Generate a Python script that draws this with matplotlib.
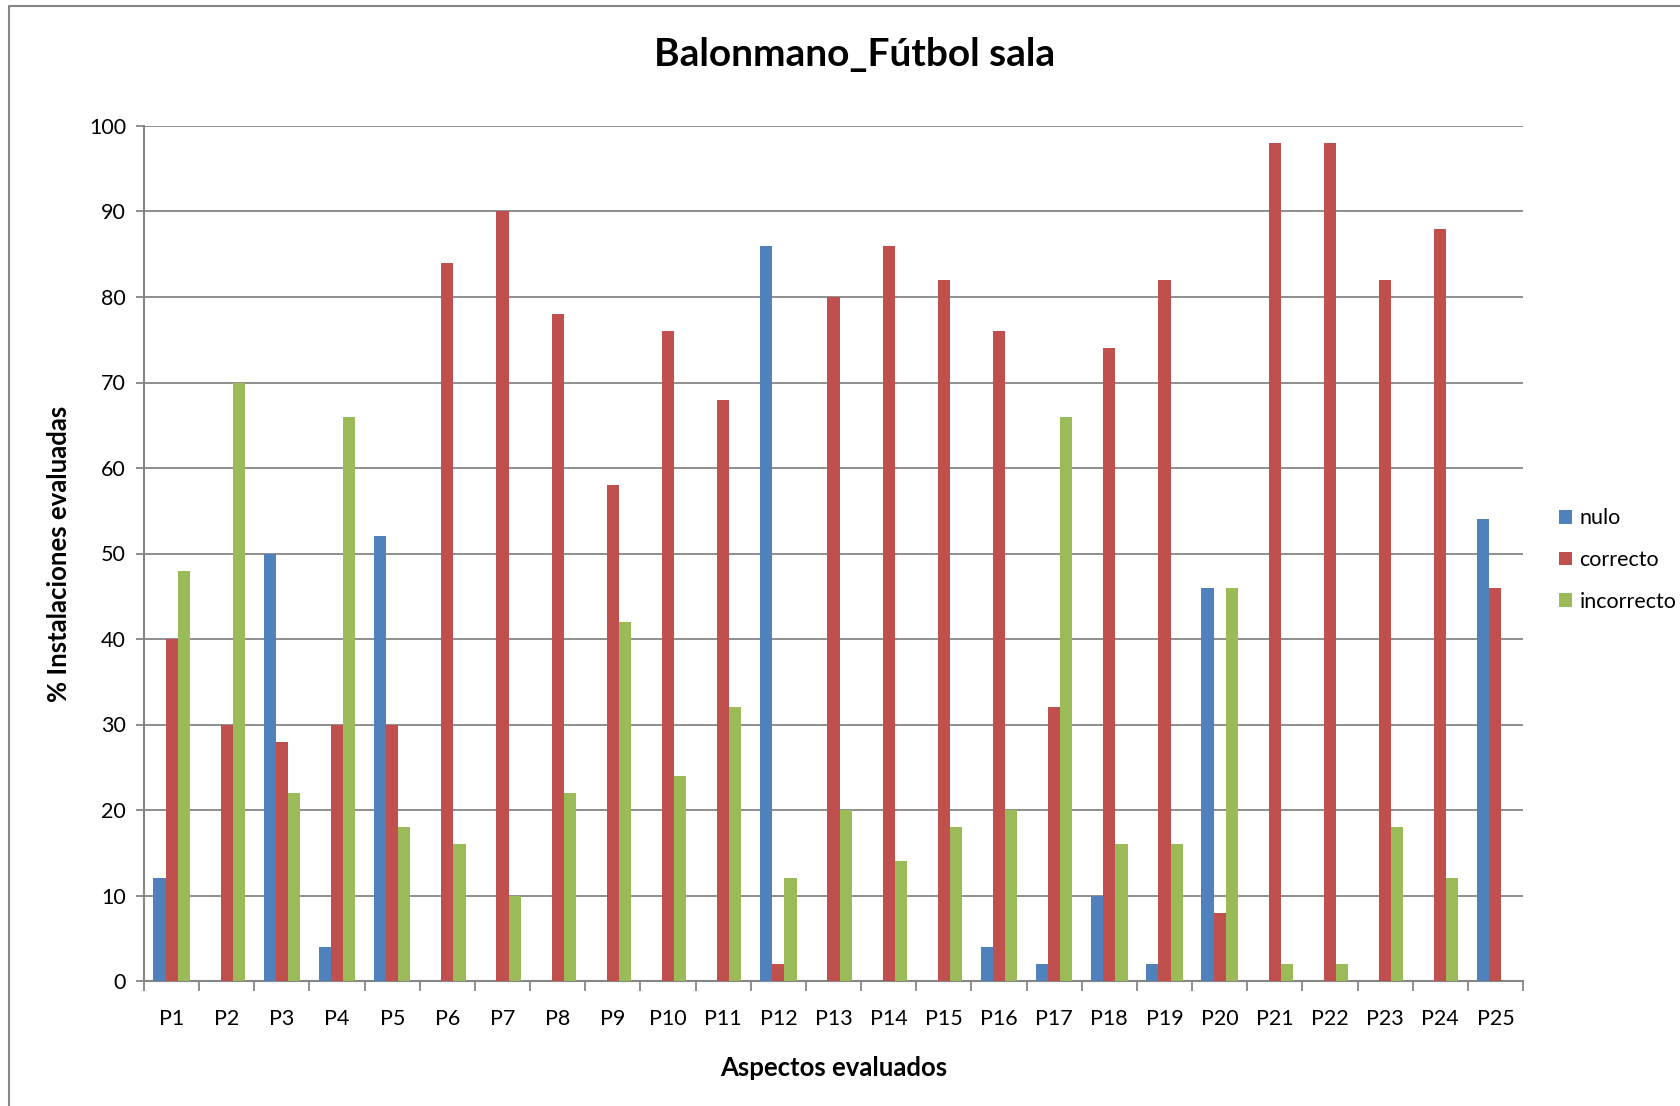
import numpy as np
import matplotlib
matplotlib.use("Agg")
import matplotlib.pyplot as plt
from matplotlib.lines import Line2D
from matplotlib.patches import Patch

# Data
categories = [f"P{i}" for i in range(1, 26)]
nulo = [12, 0, 50, 4, 52, 0, 0, 0, 0, 0, 0, 86, 0, 0, 0, 4, 2, 10, 2, 46, 0, 0, 0, 0, 54]
correcto = [40, 30, 28, 30, 30, 84, 90, 78, 58, 76, 68, 2, 80, 86, 82, 76, 32, 74, 82, 8, 98, 98, 82, 88, 46]
incorrecto = [48, 70, 22, 66, 18, 16, 10, 22, 42, 24, 32, 12, 20, 14, 18, 20, 66, 16, 16, 46, 2, 2, 18, 12, 0]
series_names = ["nulo", "correcto", "incorrecto"]
series_colors = ["#4F81BD", "#C0504D", "#9BBB59"]
y_ticks = list(range(0, 101, 10))

plt.rcParams['font.family'] = ['Lato', 'DejaVu Sans']
grey = "#868686"

W, H = 1681, 1106
fig = plt.figure(figsize=(W / 100, H / 100), dpi=100)
ax = fig.add_axes([144 / W, 1 - 981 / H, (1523 - 144) / W, (981 - 126) / H])

x = np.arange(len(categories))
bw = 0.22
for k, (vals, col) in enumerate(zip([nulo, correcto, incorrecto], series_colors)):
    ax.bar(x + (k - 1) * bw, vals, width=bw, color=col, edgecolor="none",
           zorder=3, label=series_names[k])

ax.set_xlim(-0.5, len(categories) - 0.5)
ax.set_ylim(0, 100)
ax.set_yticks(y_ticks)
ax.yaxis.grid(True, color=grey, linewidth=1.3, zorder=0)
ax.set_axisbelow(True)

# category labels at centres, tick marks at the boundaries
ax.set_xticks(x)
ax.set_xticklabels(categories)
ax.set_xticks(np.arange(-0.5, len(categories)), minor=True)
ax.tick_params(axis="x", which="major", length=0, pad=20, labelsize=15.5)
ax.tick_params(axis="x", which="minor", length=7, width=1.3, color=grey, direction="out")
ax.tick_params(axis="y", length=6, width=1.3, color=grey, pad=7, labelsize=15.5)

for s in ["top", "right"]:
    ax.spines[s].set_visible(False)
for s in ["left", "bottom"]:
    ax.spines[s].set_color(grey)
    ax.spines[s].set_linewidth(1.5)

fig.text(855 / W, 1 - 54 / H, "Balonmano_Fútbol sala", ha="center", va="center",
         fontsize=28, fontweight="bold")
fig.text(834 / W, 1 - 1068 / H, "Aspectos evaluados", ha="center", va="center",
         fontsize=18.5, fontweight="bold")
fig.text(59 / W, 1 - 554 / H, "% Instalaciones evaluadas", ha="center", va="center",
         rotation=90, fontsize=18.5, fontweight="bold")

handles = [Patch(facecolor=c, edgecolor="none") for c in series_colors]
fig.legend(handles, series_names, loc="center left",
           bbox_to_anchor=(1559 / W, 1 - 560 / H), frameon=False,
           fontsize=15.5, handlelength=0.6, handleheight=0.6,
           handletextpad=0.35, labelspacing=1.0, borderpad=0, borderaxespad=0)

# outer chart-area border (cropped at right and bottom)
x0, y1 = 9 / W, 1 - 6 / H
fig.add_artist(Line2D([x0, x0, 1.0], [0.0, y1, y1], transform=fig.transFigure,
                      color=grey, linewidth=1.5))

fig.savefig("out.png", dpi=100)
